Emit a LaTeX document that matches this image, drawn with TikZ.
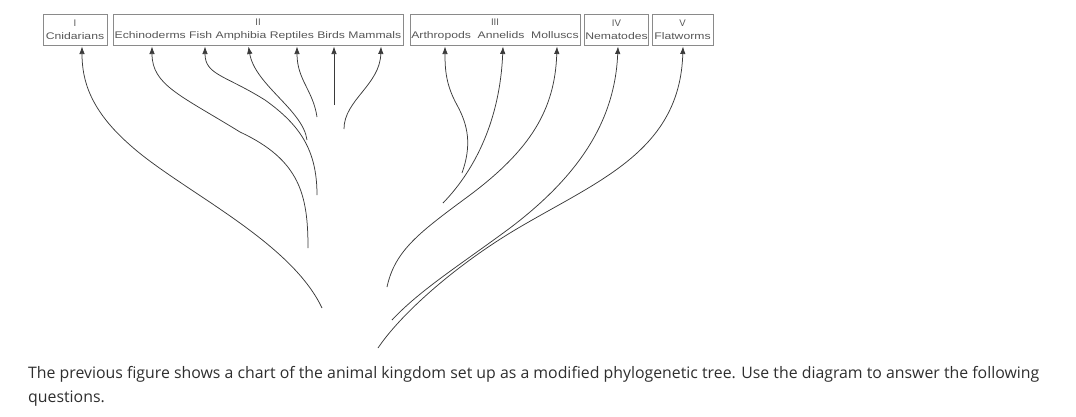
\documentclass[tikz,border=0pt]{standalone}
\usepackage{fontspec}
\setmainfont{Open Sans}
\newfontfamily\labfont{Liberation Sans}
\usetikzlibrary{arrows.meta}
\definecolor{linec}{HTML}{3A3A3A}
\definecolor{boxc}{HTML}{8A8A8A}
\definecolor{labc}{HTML}{555555}
\definecolor{txtc}{HTML}{2E2E2E}
\newcommand{\lbl}[1]{\scalebox{1.27}[1]{#1}}
\begin{document}
\begin{tikzpicture}[x=1pt,y=-1pt,
  grp/.style={draw=boxc,line width=0.8pt,inner sep=0pt,minimum height=31pt,
    align=center,text=labc,font=\labfont\fontsize{9.6}{13}\selectfont},
  branch/.style={draw=linec,line width=0.75pt,-{Latex[length=7.5pt,width=5.5pt]}},
  caption/.style={anchor=base west,inner sep=0pt,text=txtc,font=\fontsize{15.85}{24}\selectfont}]
\useasboundingbox (0,0) rectangle (1076,416);
% group boxes
\node[grp,minimum width=64pt] (gI) at (75,29.5) {I\\\lbl{Cnidarians}};
\node[grp,minimum width=290pt] (gII) at (258,29.5) {II\\\lbl{Echinoderms Fish Amphibia Reptiles Birds Mammals}};
\node[grp,minimum width=170pt] (gIII) at (495,29.5) {III\\\lbl{Arthropods\ \ Annelids\ \ Molluscs}};
\node[grp,minimum width=64pt] (gIV) at (616.5,29.5) {IV\\\lbl{Nematodes}};
\node[grp,minimum width=61pt] (gV) at (682.5,29.5) {V\\\lbl{Flatworms}};
% arrow tips
\coordinate (tCni) at (82,46.5);
\coordinate (tEch) at (152,46.5);
\coordinate (tFis) at (205,46.5);
\coordinate (tAmp) at (248.5,46.5);
\coordinate (tRep) at (297,46.5);
\coordinate (tBir) at (334,46.5);
\coordinate (tMam) at (381,46.5);
\coordinate (tArt) at (445,46.5);
\coordinate (tAnn) at (503,46.5);
\coordinate (tMol) at (557,46.5);
\coordinate (tNem) at (618,46.5);
\coordinate (tFla) at (683,46.5);
% free ends
\coordinate (eCni) at (322,308);
\coordinate (eEch) at (308,248);
\coordinate (eFis) at (317,195);
\coordinate (eAmp) at (307,140);
\coordinate (eRep) at (317,117);
\coordinate (eBir) at (334,105);
\coordinate (eMam) at (344,129);
\coordinate (eArt) at (462,173);
\coordinate (eAnn) at (443,203);
\coordinate (eMol) at (387,287);
\coordinate (eNem) at (392,320);
\coordinate (eFla) at (378,348);
% branches
\draw[branch] (eCni) .. controls (290,240) and (180,190) .. (130,145) .. controls (90,110) and (82,80) .. (tCni);
\draw[branch] (eEch) .. controls (308,195) and (300,160) .. (240,132) .. controls (180,95) and (152,85) .. (tEch);
\draw[branch] (eFis) .. controls (317,150) and (300,125) .. (265,100) .. controls (225,75) and (205,75) .. (tFis);
\draw[branch] (eAmp) .. controls (303,110) and (255,85) .. (tAmp);
\draw[branch] (eRep) .. controls (313,90) and (297,80) .. (tRep);
\draw[branch] (eBir) -- (tBir);
\draw[branch] (eMam) .. controls (344,100) and (380,85) .. (tMam);
\draw[branch] (eArt) .. controls (472,145) and (468,125) .. (457,105) .. controls (446,85) and (445,70) .. (tArt);
\draw[branch] (eAnn) .. controls (475,170) and (500,120) .. (tAnn);
\draw[branch] (eMol) .. controls (395,250) and (420,232) .. (470,195) .. controls (530,150) and (555,110) .. (tMol);
\draw[branch] (eNem) .. controls (420,290) and (460,265) .. (510,228) .. controls (580,175) and (615,120) .. (tNem);
\draw[branch] (eFla) .. controls (400,315) and (455,265) .. (520,227) .. controls (600,180) and (680,150) .. (tFla);
% caption
\node[caption] (cap1) at (28,378) {The previous figure shows a chart of the animal kingdom set up as a modified phylogenetic tree. Use the diagram to answer the following};
\node[caption] (cap2) at (28,402) {questions.};
\end{tikzpicture}
\end{document}
